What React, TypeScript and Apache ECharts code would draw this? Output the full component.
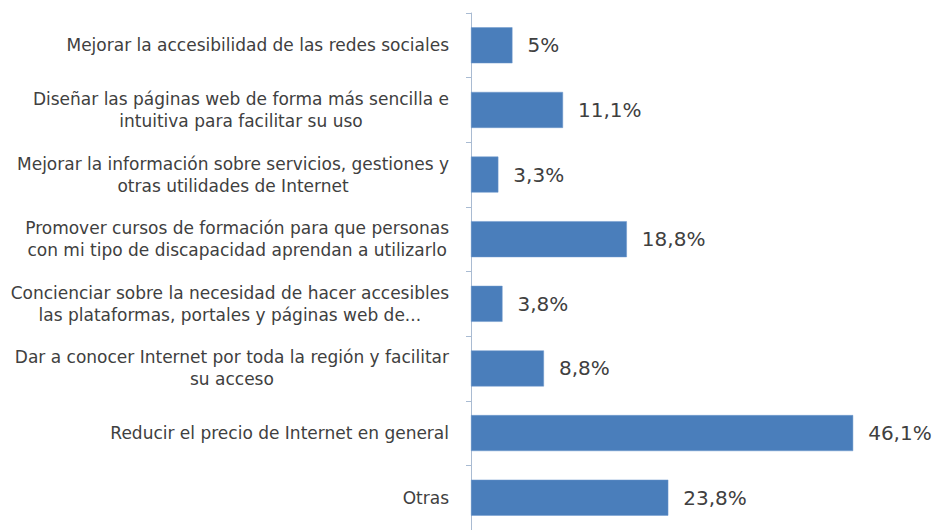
import React, { useEffect, useRef } from "react";
import * as echarts from "echarts";

const categories = [
  "Mejorar la accesibilidad de las redes sociales",
  "Diseñar las páginas web de forma más sencilla e\nintuitiva para facilitar su uso",
  "Mejorar la información sobre servicios, gestiones y\notras utilidades de Internet",
  "Promover cursos de formación para que personas\ncon mi tipo de discapacidad aprendan a utilizarlo",
  "Concienciar sobre la necesidad de hacer accesibles\nlas plataformas, portales y páginas web de...",
  "Dar a conocer Internet por toda la región y facilitar\nsu acceso",
  "Reducir el precio de Internet en general",
  "Otras",
];
const values = [5, 11.1, 3.3, 18.8, 3.8, 8.8, 46.1, 23.8];

export default function App() {
  const ref = useRef<HTMLDivElement>(null);
  useEffect(() => {
    const chart = echarts.init(ref.current!, null, { renderer: "svg" });
    const font = "DejaVu Sans";
    chart.setOption({
      animation: false,
      backgroundColor: "#ffffff",
      grid: { left: 471, top: 13, height: 520, width: 414.5, containLabel: false },
      xAxis: {
        type: "value",
        min: 0,
        max: 50,
        show: false,
      },
      yAxis: {
        type: "category",
        inverse: true,
        data: categories,
        axisLine: { show: true, lineStyle: { color: "#a9bbd2", width: 1 } },
        axisTick: { show: true, length: 5, lineStyle: { color: "#a9bbd2" } },
        axisLabel: {
          margin: 22,
          align: "right",
          fontFamily: font,
          fontSize: 17,
          lineHeight: 22,
          color: "#404040",
          formatter: (v: string) =>
            v
              .split("\n")
              .map((l) => "{c|" + l + "}")
              .join("\n"),
          rich: {
            c: { align: "center", fontFamily: font, fontSize: 17, lineHeight: 22, color: "#404040" },
          },
        },
        splitLine: { show: false },
      },
      series: [
        {
          type: "bar",
          data: values,
          barWidth: 36,
          itemStyle: { color: "#4a7ebb", borderColor: "#6f98cc", borderWidth: 0.5 },
          label: {
            show: true,
            position: "right",
            distance: 15,
            fontFamily: font,
            fontSize: 20,
            color: "#404040",
            formatter: (p: any) => String(p.value).replace(".", ",") + "%",
          },
        },
      ],
    });
    return () => chart.dispose();
  }, []);
  return (
    <div
      ref={ref}
      style={{ position: "fixed", left: 0, top: 0, width: 939, height: 530 }}
    />
  );
}
